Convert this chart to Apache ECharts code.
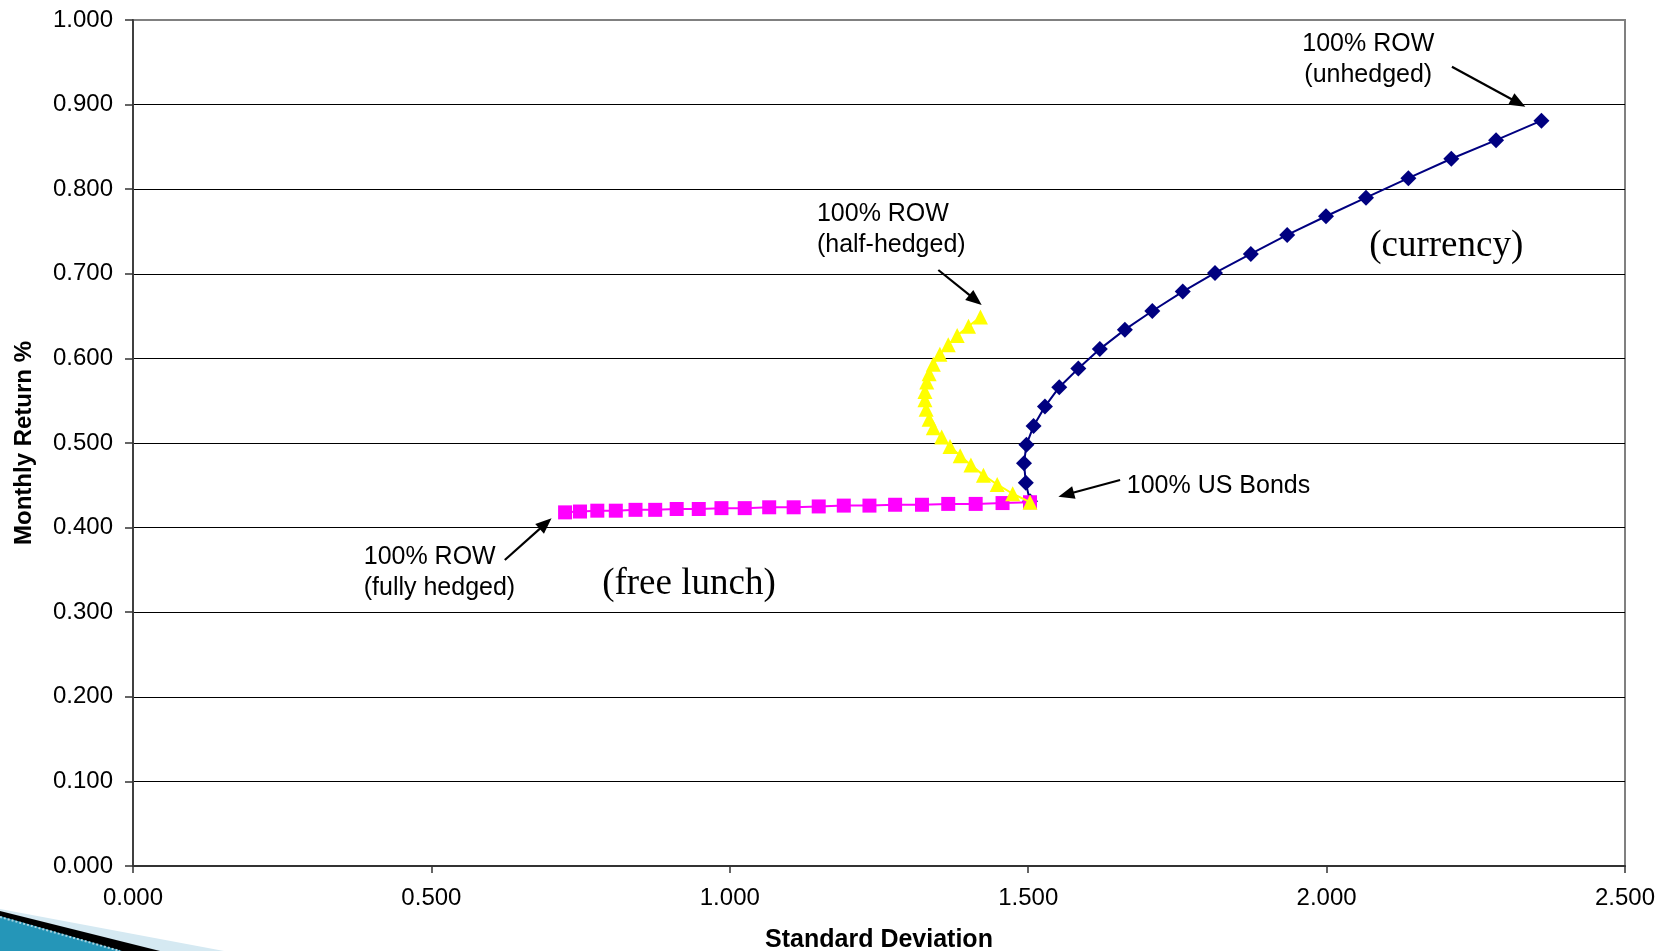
<!DOCTYPE html>
<html><head><meta charset="utf-8">
<script src="https://cdn.jsdelivr.net/npm/echarts@6/dist/echarts.min.js"></script>
<style>html,body{margin:0;padding:0;background:#fff}#c{width:1660px;height:951px}</style>
</head><body><div id="c"></div>
<script>
// ---- data ----
const blueX = [2.360, 2.284, 2.209, 2.137, 2.066, 1.999, 1.934, 1.873, 1.813, 1.759, 1.708, 1.662, 1.620, 1.584, 1.552, 1.528, 1.509, 1.497, 1.493, 1.496, 1.503];
const blueY = [0.881, 0.858, 0.836, 0.813, 0.790, 0.768, 0.746, 0.7235, 0.701, 0.679, 0.656, 0.634, 0.611, 0.588, 0.566, 0.543, 0.520, 0.498, 0.476, 0.453, 0.431];
const yellowX = [1.420, 1.400, 1.381, 1.366, 1.352, 1.341, 1.334, 1.330, 1.327, 1.327, 1.329, 1.334, 1.341, 1.355, 1.369, 1.386, 1.404, 1.425, 1.448, 1.474, 1.503];
const yellowY = [0.649, 0.638, 0.627, 0.616, 0.605, 0.593, 0.582, 0.572, 0.561, 0.551, 0.540, 0.528, 0.518, 0.507, 0.496, 0.485, 0.474, 0.462, 0.451, 0.440, 0.430];
const pinkX = [0.724, 0.749, 0.778, 0.809, 0.842, 0.875, 0.911, 0.948, 0.986, 1.025, 1.066, 1.107, 1.149, 1.191, 1.234, 1.277, 1.322, 1.366, 1.412, 1.457, 1.503];
const pinkY = [0.418, 0.419, 0.420, 0.420, 0.421, 0.421, 0.422, 0.422, 0.423, 0.423, 0.424, 0.424, 0.425, 0.426, 0.426, 0.427, 0.427, 0.428, 0.428, 0.429, 0.430];

const xTickMin = 0, xTickMax = 2.5, xTickStep = 0.5;
const yTickMin = 0, yTickMax = 1.0, yTickStep = 0.1;
const xTitle = 'Standard Deviation';
const yTitle = 'Monthly Return %';

const noteTexts = ['100% ROW\n(unhedged)', '100% ROW\n(half-hedged)', '100% ROW\n(fully hedged)', '100% US Bonds'];
const noteAnchors = [[2.0698, 0.953], [1.146, 0.7524], [0.3866, 0.3467], [1.6652, 0.4496]];
const noteAlign = ['center', 'left', 'left', 'left'];
const arrowFrom = [[2.210, 0.9448], [1.3494, 0.7045], [0.623, 0.3617], [1.654, 0.4563]];
const arrowTo = [[2.333, 0.8975], [1.4221, 0.6631], [0.7013, 0.411], [1.5506, 0.4365]];
const captionTexts = ['(currency)', '(free lunch)'];
const captionAnchors = [[2.2005, 0.7329], [0.9315, 0.3333]];

const zip = (a, b) => a.map((v, i) => [v, b[i]]);

const chart = echarts.init(document.getElementById('c'), null, {renderer: 'canvas'});
const fmt = v => v.toFixed(3);
const labelFont = {fontFamily: 'Liberation Sans, Arial, sans-serif', fontSize: 24, color: '#000'};

chart.setOption({
  animation: false,
  backgroundColor: '#fff',
  grid: {left: 133, right: 35, top: 20, bottom: 85, outerBoundsMode: 'none', containLabel: false,
         show: true, borderColor: '#808080', borderWidth: 2, backgroundColor: 'transparent'},
  xAxis: {
    type: 'value', min: xTickMin, max: xTickMax, interval: xTickStep,
    name: xTitle, nameLocation: 'middle', nameGap: 62,
    nameTextStyle: {fontFamily: 'Liberation Sans, Arial, sans-serif', fontSize: 25, fontWeight: 'bold', color: '#000'},
    axisLine: {lineStyle: {color: '#333', width: 2}},
    axisTick: {show: true, length: 7, lineStyle: {color: '#333', width: 1.5}},
    axisLabel: Object.assign({formatter: fmt, margin: 20}, labelFont),
    splitLine: {show: false}
  },
  yAxis: {
    type: 'value', min: yTickMin, max: yTickMax, interval: yTickStep,
    name: yTitle, nameLocation: 'middle', nameGap: 97,
    nameTextStyle: {fontFamily: 'Liberation Sans, Arial, sans-serif', fontSize: 24, fontWeight: 'bold', color: '#000'},
    axisLine: {show: true, lineStyle: {color: '#404040', width: 2}},
    axisTick: {show: true, length: 8, lineStyle: {color: '#333', width: 1.5}},
    axisLabel: Object.assign({formatter: fmt, margin: 20}, labelFont),
    splitLine: {show: true, showMaxLine: false, lineStyle: {color: '#000', width: 1.2}}
  },
  series: [
    {type: 'line', name: 'unhedged', data: zip(blueX, blueY), symbol: 'diamond', symbolSize: 16,
     itemStyle: {color: '#000080'}, lineStyle: {color: '#000080', width: 2}, z: 3},
    {type: 'line', name: 'fully hedged', data: zip(pinkX, pinkY), symbol: 'rect', symbolSize: 14,
     itemStyle: {color: '#FF00FF'}, lineStyle: {color: '#FF00FF', width: 2}, z: 4},
    {type: 'line', name: 'half-hedged', data: zip(yellowX, yellowY), symbol: 'triangle', symbolSize: 15,
     itemStyle: {color: '#FFFF00'}, lineStyle: {color: '#FFFF00', width: 2}, z: 5}
  ]
});

function px(p) { return chart.convertToPixel({gridIndex: 0}, p); }
const g = [];
// decoration at bottom-left
g.push({type: 'polygon', shape: {points: [[0, 909], [224, 951], [0, 951]]}, style: {fill: '#d5e9f2'}, silent: true});
g.push({type: 'polygon', shape: {points: [[0, 911], [160, 951], [0, 951]]}, style: {fill: '#000'}, silent: true});
g.push({type: 'polygon', shape: {points: [[0, 916], [122, 951], [0, 951]]}, style: {fill: '#2596b8'}, silent: true});
g.push({type: 'polyline', shape: {points: [[0, 917], [120, 951]]}, style: {stroke: '#a8d4e2', lineWidth: 2, lineDash: [2, 2]}, silent: true});

noteTexts.forEach((t, i) => {
  const p = px(noteAnchors[i]);
  g.push({type: 'text', x: p[0], y: p[1], style: {text: t, fill: '#000', font: '25px "Liberation Sans", Arial, sans-serif',
    align: noteAlign[i], verticalAlign: 'middle', lineHeight: 31}, z: 10});
});
captionTexts.forEach((t, i) => {
  const p = px(captionAnchors[i]);
  g.push({type: 'text', x: p[0], y: p[1], style: {text: t, fill: '#000', font: '37px "Liberation Serif", "Times New Roman", serif',
    align: 'center', verticalAlign: 'middle'}, z: 10});
});
arrowFrom.forEach((f, i) => {
  const a = px(f), b = px(arrowTo[i]);
  const dx = b[0] - a[0], dy = b[1] - a[1], L = Math.hypot(dx, dy);
  const ux = dx / L, uy = dy / L, hl = 16, hw = 6.5;
  const bx = b[0] - ux * hl, by = b[1] - uy * hl;
  g.push({type: 'line', shape: {x1: a[0], y1: a[1], x2: bx + ux * 2, y2: by + uy * 2}, style: {stroke: '#000', lineWidth: 2.2}, z: 10});
  g.push({type: 'polygon', shape: {points: [[b[0], b[1]], [bx - uy * hw, by + ux * hw], [bx + uy * hw, by - ux * hw]]}, style: {fill: '#000'}, z: 10});
});
chart.setOption({graphic: g});
</script></body></html>
